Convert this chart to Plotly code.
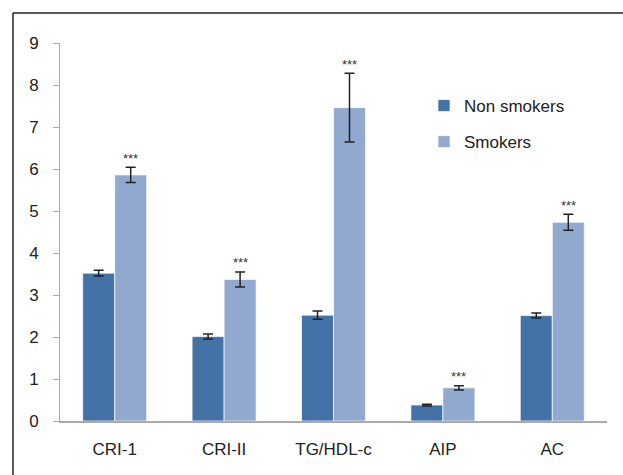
import plotly.graph_objects as go

categories = ["CRI-1", "CRI-II", "TG/HDL-c", "AIP", "AC"]
non_smokers = [3.52, 2.01, 2.52, 0.38, 2.51]
non_smokers_err = [0.07, 0.06, 0.10, 0.02, 0.06]
smokers = [5.86, 3.37, 7.46, 0.79, 4.73]
smokers_err = [0.18, 0.18, 0.82, 0.05, 0.19]
significance = ["***", "***", "***", "***", "***"]
y_ticks = [0, 1, 2, 3, 4, 5, 6, 7, 8, 9]

W, H = 623, 475
L, R, T, B = 60, 16, 43, 54
pw, ph = W - L - R, H - T - B

fig = go.Figure()
fig.add_trace(go.Bar(
    name="Non smokers", x=categories, y=non_smokers,
    marker=dict(color="#4272a6", line=dict(color="rgba(255,255,255,0.7)", width=1)),
    error_y=dict(type="data", array=non_smokers_err, color="#222222", thickness=1.5, width=5),
    legendgroup="a",
))
fig.add_trace(go.Bar(
    name="Smokers", x=categories, y=smokers,
    marker=dict(color="#91a9cf", line=dict(color="rgba(255,255,255,0.7)", width=1)),
    error_y=dict(type="data", array=smokers_err, color="#222222", thickness=1.5, width=5),
    legendgroup="b",
))

# significance marks above the smokers' error bars
for c, v, e, s in zip(categories, smokers, smokers_err, significance):
    fig.add_annotation(x=c, y=v + e, text=s, showarrow=False, xshift=16, yshift=9,
                       font=dict(size=13, color="#333333"))

# frame around the figure (top and left edges)
x_left = (13 - L) / pw
y_top = (H - B - 13) / ph
fig.add_shape(type="line", xref="paper", yref="paper", x0=x_left, x1=x_left,
              y0=y_top, y1=-0.5, line=dict(color="#222222", width=1.5))
fig.add_shape(type="line", xref="paper", yref="paper", x0=x_left, x1=1.5,
              y0=y_top, y1=y_top, line=dict(color="#222222", width=1.5))

fig.update_layout(
    width=W, height=H,
    margin=dict(l=L, r=R, t=T, b=B),
    paper_bgcolor="white", plot_bgcolor="white",
    barmode="group", bargap=0.415, bargroupgap=0,
    font=dict(family="Liberation Sans, Arial, sans-serif", size=17, color="#222222"),
    showlegend=True,
    legend=dict(x=(424 - L) / pw, y=(H - B - 88) / ph, xanchor="left", yanchor="top",
                bgcolor="rgba(0,0,0,0)", tracegroupgap=11, itemwidth=30,
                font=dict(size=17)),
    xaxis=dict(showline=True, linecolor="#aaaaaa", linewidth=1.5, ticks="",
               showgrid=False, zeroline=False, ticklabelstandoff=12),
    yaxis=dict(range=[0, 9], tickvals=y_ticks, showline=True, linecolor="#aaaaaa",
               linewidth=1, ticks="outside", ticklen=6, tickcolor="#aaaaaa",
               showgrid=False, zeroline=False, ticklabelstandoff=11),
)

fig.write_html("out.html")
